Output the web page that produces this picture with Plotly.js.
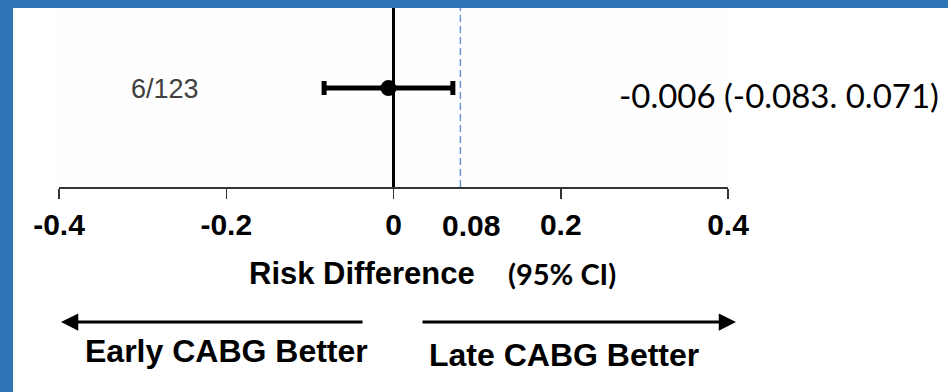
<!DOCTYPE html>
<html>
<head>
<meta charset="utf-8">
<script src="https://cdn.plot.ly/plotly-3.0.1.min.js"></script>
<style>
  html, body { margin: 0; padding: 0; width: 948px; height: 392px; overflow: hidden; background: #2e75b6; }
  #chart { position: absolute; left: 13px; top: 8px; width: 935px; height: 384px; background: #ffffff; }
</style>
</head>
<body>
<div id="chart"></div>
<script>
// Forest plot, single comparison: risk difference (late vs early CABG) with 95% CI
const studyLabel = ['6/123'];
const riskDiff = [-0.006];
const ciLower = [-0.083];
const ciUpper = [0.071];
const rowY = [1];
const nonInfMargin = 0.08;
const tickVals = [-0.4, -0.2, 0, 0.2, 0.4];
const tickText = ['-0.4', '-0.2', '0', '0.2', '0.4'];

const summaryText = riskDiff.map((v, i) =>
  `${v.toFixed(3)} (${ciLower[i].toFixed(3)}. ${ciUpper[i].toFixed(3)})`);

// plot box inside the chart div, in pixels
const BOX = { l: 46, t: 0, w: 669, h: 179 };
const W = 935, H = 384;
const px = x => (x - BOX.l) / BOX.w;          // div x -> paper x
const py = y => (BOX.t + BOX.h - y) / BOX.h;  // div y -> paper y

const ARIAL = 'Liberation Sans, Arial, sans-serif';
const CALIBRI = 'Lato, Carlito, Calibri, sans-serif';

const trace = {
  type: 'scatter',
  mode: 'markers',
  x: riskDiff,
  y: rowY,
  marker: { color: '#000000', size: 16, symbol: 'circle' },
  error_x: {
    type: 'data',
    symmetric: false,
    array: riskDiff.map((v, i) => +(ciUpper[i] - v).toFixed(6)),
    arrayminus: riskDiff.map((v, i) => +(v - ciLower[i]).toFixed(6)),
    color: '#000000',
    thickness: 5,
    width: 7
  },
  hoverinfo: 'skip',
  showlegend: false
};

const annotations = [
  { text: studyLabel[0], xref: 'paper', yref: 'paper', x: px(152), y: py(80.5),
    xanchor: 'center', yanchor: 'middle', showarrow: false,
    font: { family: ARIAL, size: 27, color: '#404040' } },
  { text: summaryText[0], xref: 'paper', yref: 'paper', x: px(604), y: py(86.5),
    xanchor: 'left', yanchor: 'middle', showarrow: false,
    font: { family: CALIBRI, size: 33, color: '#000000' } },
  { text: String(nonInfMargin), xref: 'x', yref: 'paper', x: nonInfMargin, xshift: 11, y: py(217.5),
    xanchor: 'center', yanchor: 'middle', showarrow: false,
    font: { family: ARIAL, size: 30, color: '#000000', weight: 'bold' } },
  { text: 'Risk Difference', xref: 'paper', yref: 'paper', x: px(349), y: py(265.5),
    xanchor: 'center', yanchor: 'middle', showarrow: false,
    font: { family: ARIAL, size: 31, color: '#000000', weight: 'bold' } },
  { text: '(95% CI)', xref: 'paper', yref: 'paper', x: px(493), y: py(265),
    xanchor: 'left', yanchor: 'middle', showarrow: false,
    font: { family: CALIBRI, size: 29, color: '#000000', weight: 'bold' } },
  // direction arrows
  { text: '', xref: 'paper', yref: 'paper', x: px(48), y: py(314), ax: 303, ay: 0,
    showarrow: true, arrowhead: 2, arrowsize: 1.15, arrowwidth: 3, arrowcolor: '#000000', standoff: 0 },
  { text: '', xref: 'paper', yref: 'paper', x: px(723), y: py(314), ax: -315, ay: 0,
    showarrow: true, arrowhead: 2, arrowsize: 1.15, arrowwidth: 3, arrowcolor: '#000000', standoff: 0 },
  { text: 'Early CABG Better', xref: 'paper', yref: 'paper', x: px(213), y: py(343),
    xanchor: 'center', yanchor: 'middle', showarrow: false,
    font: { family: ARIAL, size: 32, color: '#000000', weight: 'bold' } },
  { text: 'Late CABG Better', xref: 'paper', yref: 'paper', x: px(550.5), y: py(347),
    xanchor: 'center', yanchor: 'middle', showarrow: false,
    font: { family: ARIAL, size: 32, color: '#000000', weight: 'bold' } }
];

const layout = {
  width: W,
  height: H,
  margin: { l: BOX.l, r: W - BOX.l - BOX.w, t: BOX.t, b: H - BOX.t - BOX.h, pad: 0 },
  paper_bgcolor: '#ffffff',
  plot_bgcolor: '#fefefe',
  xaxis: {
    range: [-0.4, 0.4],
    fixedrange: true,
    showgrid: false,
    zeroline: true,
    zerolinecolor: '#000000',
    zerolinewidth: 2.5,
    showline: true,
    linecolor: '#333333',
    linewidth: 1.5,
    ticks: 'outside',
    ticklen: 10,
    tickwidth: 1.5,
    tickcolor: '#333333',
    tickvals: tickVals,
    ticktext: tickText,
    tickfont: { family: ARIAL, size: 30, color: '#000000', weight: 'bold' }
  },
  yaxis: {
    range: [0, 1.81],
    visible: false,
    fixedrange: true
  },
  shapes: [
    { type: 'line', xref: 'x', yref: 'paper', x0: nonInfMargin, x1: nonInfMargin, y0: 0, y1: 1,
      line: { color: '#6f95d8', width: 1.5, dash: '7px,4px' } }
  ],
  annotations: annotations
};

Plotly.newPlot('chart', [trace], layout, { displayModeBar: false, staticPlot: true });
</script>
</body>
</html>
